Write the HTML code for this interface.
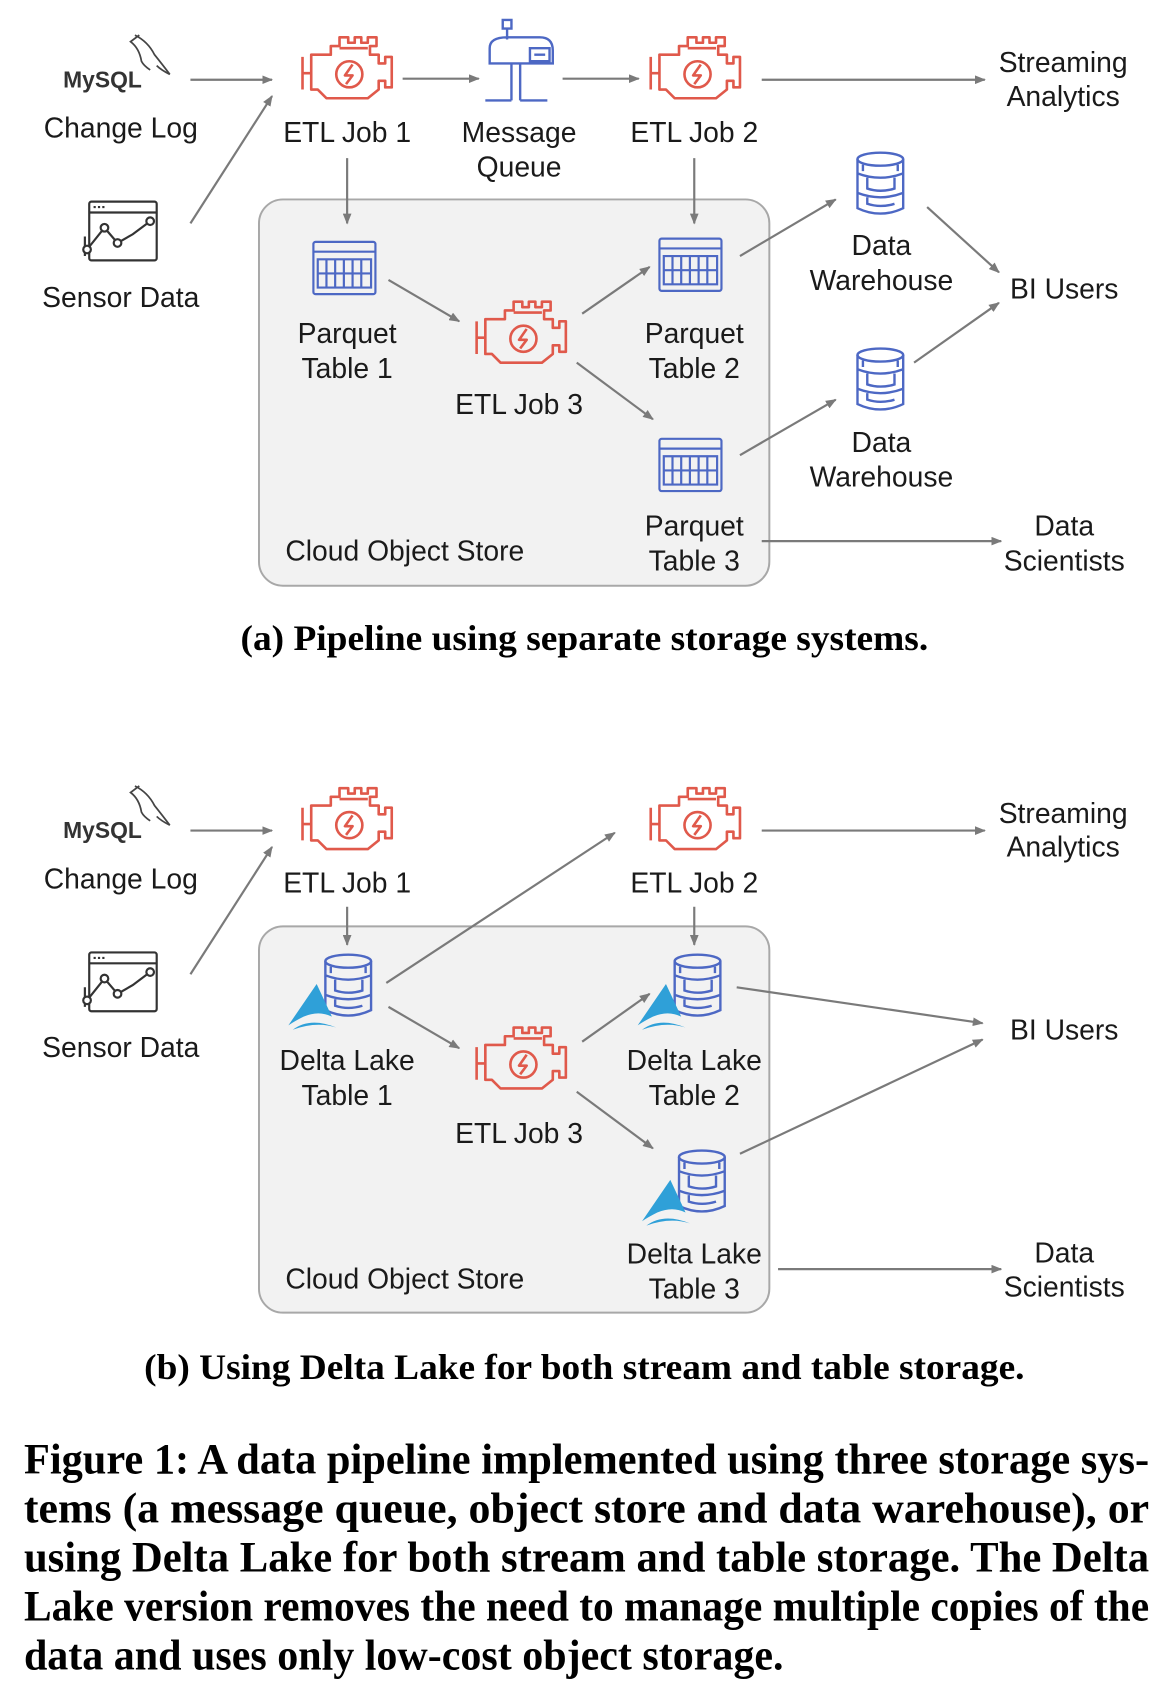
<!DOCTYPE html>
<html><head><meta charset="utf-8"><style>
html,body{margin:0;padding:0;background:#fff;}
svg{display:block;}
.l{font-family:"Liberation Sans",sans-serif;font-size:26px;fill:#1a1a1a;text-anchor:middle;}
.c{font-family:"Liberation Serif",serif;font-weight:bold;font-size:33px;fill:#000;text-anchor:middle;}
.f{font-family:"Liberation Serif",serif;font-weight:bold;font-size:40px;fill:#000;}
.a{stroke:#7a7a7a;stroke-width:2;fill:none;marker-end:url(#ah);}
</style></head><body>
<svg width="1160" height="1696" viewBox="0 0 1066 1558" xmlns="http://www.w3.org/2000/svg">
<defs>
<marker id="ah" markerWidth="10" markerHeight="8" refX="9" refY="4" orient="auto" markerUnits="userSpaceOnUse">
<path d="M0,0 L10,4 L0,8 Z" fill="#7a7a7a"/></marker>
<g id="eng" fill="none" stroke="#e0594b" stroke-width="2.4" stroke-linejoin="round">
<path d="M10,20 H28 V12 H36 V4 H44 V9 H50 V4 H56 V9 H62 V4 H70 V12 H64 V20 H72 V28 H78 V22 H84 V50 H78 V44 H72 V52 L62,60 H24 L16,52 H10 Z"/>
<path d="M2,22 V52 M2,37 H10 M36,14 H62"/>
<circle cx="45" cy="38" r="12"/>
<path d="M48,29 L41,39 H48 L42,47"/>
</g>
<g id="tbl" fill="none" stroke="#4d68c4" stroke-width="2">
<rect x="0" y="0" width="57" height="48" rx="2"/>
<path d="M0,9 H57 M4,16 H53 V42 H4 Z M4,29 H53 M12,16 V42 M20,16 V42 M28,16 V42 M36,16 V42 M44,16 V42"/>
</g>
<g id="db" fill="none" stroke="#4d68c4" stroke-width="2.2">
<ellipse cx="22" cy="7" rx="21" ry="6"/>
<path d="M1,7 V52 Q22,62 43,52 V7"/>
<path d="M1,20 Q22,28 43,20 M10,24 V34 Q22,38 35,34 V24 M1,38 Q22,46 43,38 M10,42 V48 Q22,52 35,48"/>
<path d="M6,12 V18 M38,12 V18"/>
</g>
<g id="dl">
<use href="#db" x="33" y="0"/>
<path d="M0,66 L26,28 L40,58 Q28,52 14,58 Q6,62 0,66 Z M4,70 Q20,58 44,68 Q26,62 4,70Z" fill="#2fa0d8"/>
</g>
<g id="mysql">
<text x="0" y="20" font-family="Liberation Sans,sans-serif" font-weight="bold" font-size="21" fill="#333">MySQL</text>
<path d="M66,-28 Q78,-22 84,-10 Q92,0 98,8 Q90,4 86,0 M70,-28 L62,-22 Q70,-16 72,-4 Q74,0 80,4" fill="none" stroke="#444" stroke-width="1.6"/>
</g>
<g id="sensor" fill="none" stroke="#333" stroke-width="2">
<rect x="4" y="0" width="62" height="54" rx="2"/>
<path d="M4,10 H66 M0,32 V50"/>
<path d="M8,5 h2 M12,5 h2 M16,5 h2"/>
<path d="M2,44 L18,24 L30,38 L44,30 L60,18"/>
<circle cx="2" cy="44" r="3.5" fill="#fff"/><circle cx="18" cy="24" r="3.5" fill="#fff"/><circle cx="30" cy="38" r="3.5" fill="#fff"/><circle cx="60" cy="18" r="3.5" fill="#fff"/>
</g>
</defs>
<rect width="1066" height="1558" fill="#fff"/>

<!-- ===== (a) ===== -->
<rect x="238" y="183" width="469" height="355" rx="22" fill="#f2f2f2" stroke="#a8a8a8" stroke-width="1.8"/>
<use href="#mysql" x="58" y="60"/>
<text class="l" x="111" y="126">Change Log</text>
<use href="#sensor" x="78" y="185"/>
<text class="l" x="111" y="282">Sensor Data</text>
<use href="#eng" x="276" y="30"/>
<text class="l" x="319" y="130">ETL Job 1</text>
<g fill="none" stroke="#4d68c4" stroke-width="2.2">
<path d="M462,18 H470 V26 H462 Z M466,26 V36 M450,58 V44 Q450,34 466,34 H496 Q508,34 508,46 V58 Z M478,58 V92 M470,58 V92 M446,92 H470 M478,92 H503 M487,44 H505 V56 H487 Z M491,50 H501"/>
</g>
<text class="l" x="477" y="130">Message</text>
<text class="l" x="477" y="162">Queue</text>
<use href="#eng" x="596" y="30"/>
<text class="l" x="638" y="130">ETL Job 2</text>
<text class="l" x="977" y="66">Streaming</text>
<text class="l" x="977" y="97">Analytics</text>
<path class="a" d="M175,73 H250"/>
<path class="a" d="M175,205 L250,88"/>
<path class="a" d="M370,72 H440"/>
<path class="a" d="M517,72 H587"/>
<path class="a" d="M700,73 H905"/>
<path class="a" d="M319,145 V205"/>
<path class="a" d="M638,145 V205"/>
<use href="#tbl" x="288" y="222"/>
<text class="l" x="319" y="315">Parquet</text>
<text class="l" x="319" y="347">Table 1</text>
<use href="#eng" x="436" y="273"/>
<text class="l" x="477" y="380">ETL Job 3</text>
<use href="#tbl" x="606" y="219"/>
<text class="l" x="638" y="315">Parquet</text>
<text class="l" x="638" y="347">Table 2</text>
<use href="#tbl" x="606" y="403"/>
<text class="l" x="638" y="492">Parquet</text>
<text class="l" x="638" y="524">Table 3</text>
<text class="l" x="372" y="515">Cloud Object Store</text>
<path class="a" d="M357,257 L422,295"/>
<path class="a" d="M535,288 L597,245"/>
<path class="a" d="M530,333 L600,385"/>
<use href="#db" x="787" y="139"/>
<text class="l" x="810" y="234">Data</text>
<text class="l" x="810" y="266">Warehouse</text>
<use href="#db" x="787" y="319"/>
<text class="l" x="810" y="415">Data</text>
<text class="l" x="810" y="447">Warehouse</text>
<text class="l" x="978" y="274">BI Users</text>
<text class="l" x="978" y="492">Data</text>
<text class="l" x="978" y="524">Scientists</text>
<path class="a" d="M680,235 L768,183"/>
<path class="a" d="M680,418 L768,367"/>
<path class="a" d="M852,190 L918,250"/>
<path class="a" d="M840,333 L918,278"/>
<path class="a" d="M700,497 H920"/>
<text class="c" x="537" y="597" textLength="632" lengthAdjust="spacingAndGlyphs">(a) Pipeline using separate storage systems.</text>

<!-- ===== (b) ===== -->
<rect x="238" y="851" width="469" height="355" rx="22" fill="#f2f2f2" stroke="#a8a8a8" stroke-width="1.8"/>
<use href="#mysql" x="58" y="750"/>
<text class="l" x="111" y="816">Change Log</text>
<use href="#sensor" x="78" y="875"/>
<text class="l" x="111" y="971">Sensor Data</text>
<use href="#eng" x="276" y="720"/>
<text class="l" x="319" y="820">ETL Job 1</text>
<use href="#eng" x="596" y="720"/>
<text class="l" x="638" y="820">ETL Job 2</text>
<text class="l" x="977" y="756">Streaming</text>
<text class="l" x="977" y="787">Analytics</text>
<path class="a" d="M175,763 H250"/>
<path class="a" d="M175,895 L250,778"/>
<path class="a" d="M700,763 H905"/>
<path class="a" d="M319,833 V868"/>
<path class="a" d="M638,833 V868"/>
<use href="#dl" x="265" y="876"/>
<text class="l" x="319" y="983">Delta Lake</text>
<text class="l" x="319" y="1015">Table 1</text>
<use href="#eng" x="436" y="940"/>
<text class="l" x="477" y="1050">ETL Job 3</text>
<use href="#dl" x="586" y="876"/>
<text class="l" x="638" y="983">Delta Lake</text>
<text class="l" x="638" y="1015">Table 2</text>
<use href="#dl" x="590" y="1056"/>
<text class="l" x="638" y="1161">Delta Lake</text>
<text class="l" x="638" y="1193">Table 3</text>
<text class="l" x="372" y="1184">Cloud Object Store</text>
<path class="a" d="M355,903 L565,765"/>
<path class="a" d="M357,925 L422,963"/>
<path class="a" d="M535,957 L597,913"/>
<path class="a" d="M530,1003 L600,1055"/>
<path class="a" d="M677,907 L903,940"/>
<path class="a" d="M680,1060 L903,955"/>
<path class="a" d="M715,1166 H920"/>
<text class="l" x="978" y="955">BI Users</text>
<text class="l" x="978" y="1160">Data</text>
<text class="l" x="978" y="1191">Scientists</text>
<text class="c" x="537" y="1267" textLength="809" lengthAdjust="spacingAndGlyphs">(b) Using Delta Lake for both stream and table storage.</text>

<!-- caption -->
<text class="f" x="22" y="1354" textLength="1034" lengthAdjust="spacingAndGlyphs">Figure 1: A data pipeline implemented using three storage sys-</text>
<text class="f" x="22" y="1399" textLength="1034" lengthAdjust="spacingAndGlyphs">tems (a message queue, object store and data warehouse), or</text>
<text class="f" x="22" y="1444" textLength="1034" lengthAdjust="spacingAndGlyphs">using Delta Lake for both stream and table storage. The Delta</text>
<text class="f" x="22" y="1489" textLength="1034" lengthAdjust="spacingAndGlyphs">Lake version removes the need to manage multiple copies of the</text>
<text class="f" x="22" y="1534" textLength="698" lengthAdjust="spacingAndGlyphs">data and uses only low-cost object storage.</text>
</svg>
</body></html>
